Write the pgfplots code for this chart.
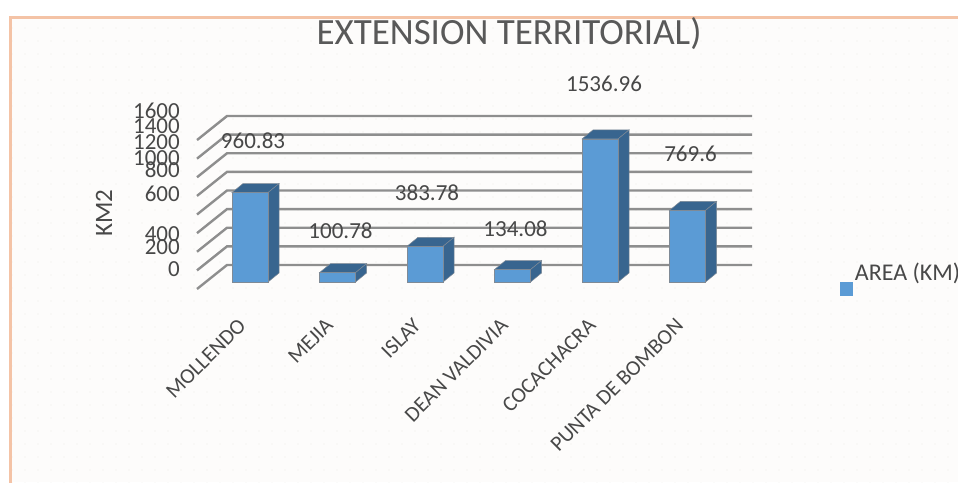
\documentclass[border=0pt]{standalone}
\usepackage{fontspec}
\setmainfont{Carlito}
\usepackage{pgfplots}
\usepackage{pgfplotstable}
\pgfplotsset{compat=1.18}
\usetikzlibrary{patterns.meta}
\definecolor{barfront}{HTML}{5B9BD5}
\definecolor{bardark}{HTML}{38658F}
\definecolor{barline}{HTML}{7F8A96}
\definecolor{gridc}{HTML}{8E8E8E}
\definecolor{txt}{HTML}{484848}
\definecolor{ttl}{HTML}{595959}
\definecolor{bord}{HTML}{F4C3A6}
\definecolor{bgc}{HTML}{FDFCFB}
\definecolor{dotc}{HTML}{EFECE8}
\pgfplotstableread{
x y off xoff
0 960.83 52 3
1 100.78 42 3
2 383.78 54 2
3 134.08 41 3
4 1536.96 55 4
5 769.6 57 3
}\areadata
\begin{document}
\begin{tikzpicture}
\path[use as bounding box] (0,0) rectangle (958pt,482pt);
\clip (0,0) rectangle (958pt,482pt);
\fill[white] (0,0) rectangle (958pt,482pt);
\fill[bgc] (10pt,0) rectangle (958pt,464.5pt);
\fill[pattern={Dots[radius=0.7pt,distance=13pt]},pattern color=dotc] (11pt,0) rectangle (958pt,463pt);
\draw[bord,line width=3pt] (10pt,-2pt) -- (10pt,464.5pt) -- (960pt,464.5pt);
\begin{axis}[
  at={(197pt,193pt)},anchor=south west,
  x=87.5pt,y=0.0931pt,
  xmin=-0.606,xmax=5.737,ymin=-75,ymax=1900,
  clip=false,
  axis line style={draw=none},
  major tick length=0pt,
  tick style={draw=none},
  axis y line*=left,axis x line*=bottom,
  xtick={0,1,2,3,4,5},
  xticklabels={MOLLENDO,MEJIA,ISLAY,DEAN VALDIVIA,COCACHACRA,PUNTA DE BOMBON},
  xticklabel style={xshift=-13pt,yshift=-28pt,rotate=45,anchor=north east,inner sep=0pt,font=\fontsize{21.5}{21.5}\selectfont,text=txt},
  ytick={135,372,511,952,1209,1328,1500,1671,1843},
  yticklabels={0,200,400,600,800,1000,1200,1400,1600},
  yticklabel style={anchor=east,inner sep=0pt,xshift=-17pt,font=\fontsize{23}{23}\selectfont,text=txt},
  ylabel={KM2},
  ylabel style={at={(axis cs:-1.669,741)},anchor=center,font=\fontsize{25}{25}\selectfont,text=txt},
  title={EXTENSION TERRITORIAL)},
  title style={at={(axis cs:2.96,2600)},anchor=center,font=\fontsize{37}{37}\selectfont,text=ttl},
  legend style={at={(axis cs:6.743,43)},anchor=west,draw=none,fill=none,font=\fontsize{24}{24}\selectfont,text=txt,inner sep=0pt},
]
% floor + wall grid
\addplot[gridc,line width=2.4pt,forget plot] coordinates {(-0.606,-75)(-0.263,183)(5.737,183)};
\addplot[gridc,line width=2.4pt,forget plot] coordinates {(-0.606,125)(-0.263,383)(5.737,383)};
\addplot[gridc,line width=2.4pt,forget plot] coordinates {(-0.606,325)(-0.263,583)(5.737,583)};
\addplot[gridc,line width=2.4pt,forget plot] coordinates {(-0.606,525)(-0.263,783)(5.737,783)};
\addplot[gridc,line width=2.4pt,forget plot] coordinates {(-0.606,725)(-0.263,983)(5.737,983)};
\addplot[gridc,line width=2.4pt,forget plot] coordinates {(-0.606,925)(-0.263,1183)(5.737,1183)};
\addplot[gridc,line width=2.4pt,forget plot] coordinates {(-0.606,1125)(-0.263,1383)(5.737,1383)};
\addplot[gridc,line width=2.4pt,forget plot] coordinates {(-0.606,1325)(-0.263,1583)(5.737,1583)};
\addplot[gridc,line width=2.4pt,forget plot] coordinates {(-0.606,1525)(-0.263,1783)(5.737,1783)};
% bar depth faces: top
\addplot[fill=bardark,draw=barline,line width=0.5pt,forget plot] coordinates {(-0.206,960.83)(-0.08,1057.83)(0.332,1057.83)(0.206,960.83)} --cycle;
\addplot[fill=bardark,draw=barline,line width=0.5pt,forget plot] coordinates {(0.794,100.78)(0.92,197.78)(1.332,197.78)(1.206,100.78)} --cycle;
\addplot[fill=bardark,draw=barline,line width=0.5pt,forget plot] coordinates {(1.794,383.78)(1.92,480.78)(2.332,480.78)(2.206,383.78)} --cycle;
\addplot[fill=bardark,draw=barline,line width=0.5pt,forget plot] coordinates {(2.794,134.08)(2.92,231.08)(3.332,231.08)(3.206,134.08)} --cycle;
\addplot[fill=bardark,draw=barline,line width=0.5pt,forget plot] coordinates {(3.794,1536.96)(3.92,1633.96)(4.332,1633.96)(4.206,1536.96)} --cycle;
\addplot[fill=bardark,draw=barline,line width=0.5pt,forget plot] coordinates {(4.794,769.6)(4.92,866.6)(5.332,866.6)(5.206,769.6)} --cycle;
% bar depth faces: side
\addplot[fill=bardark,draw=barline,line width=0.5pt,forget plot] coordinates {(0.206,0)(0.332,97)(0.332,1057.83)(0.206,960.83)} --cycle;
\addplot[fill=bardark,draw=barline,line width=0.5pt,forget plot] coordinates {(1.206,0)(1.332,97)(1.332,197.78)(1.206,100.78)} --cycle;
\addplot[fill=bardark,draw=barline,line width=0.5pt,forget plot] coordinates {(2.206,0)(2.332,97)(2.332,480.78)(2.206,383.78)} --cycle;
\addplot[fill=bardark,draw=barline,line width=0.5pt,forget plot] coordinates {(3.206,0)(3.332,97)(3.332,231.08)(3.206,134.08)} --cycle;
\addplot[fill=bardark,draw=barline,line width=0.5pt,forget plot] coordinates {(4.206,0)(4.332,97)(4.332,1633.96)(4.206,1536.96)} --cycle;
\addplot[fill=bardark,draw=barline,line width=0.5pt,forget plot] coordinates {(5.206,0)(5.332,97)(5.332,866.6)(5.206,769.6)} --cycle;
% front faces, with values
\addplot[ybar,bar width=36pt,bar shift=0pt,fill=barfront,draw=barline,line width=0.7pt,
  legend image code/.code={\fill[barfront] (-4pt,-22.5pt) rectangle (8pt,-9.5pt);},
  visualization depends on={\thisrow{off} \as \voff},
  visualization depends on={\thisrow{xoff} \as \hoff},
  nodes near coords={\pgfmathprintnumber[fixed,precision=2,1000 sep={},assume math mode=true]{\pgfplotspointmeta}},
  nodes near coords style={anchor=center,yshift=\voff pt,xshift=\hoff pt,font=\fontsize{23}{23}\selectfont,text=txt},
] table[x=x,y=y] {\areadata};
\addlegendentry{AREA (KM)}
\end{axis}
\end{tikzpicture}
\end{document}
